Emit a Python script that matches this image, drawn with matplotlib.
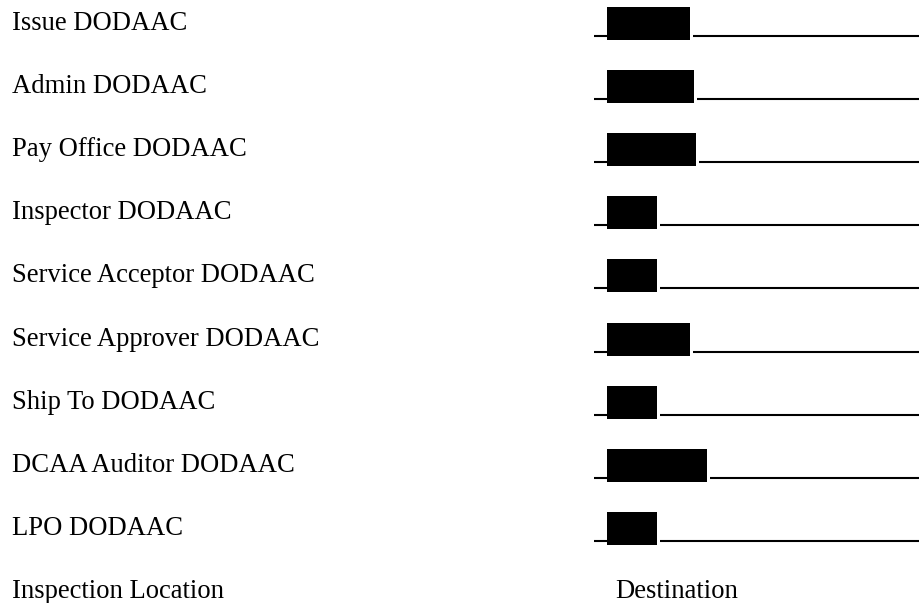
import matplotlib
matplotlib.use("Agg")
import matplotlib.pyplot as plt
import numpy as np

labels = ['Issue DODAAC', 'Admin DODAAC', 'Pay Office DODAAC', 'Inspector DODAAC',
          'Service Acceptor DODAAC', 'Service Approver DODAAC', 'Ship To DODAAC',
          'DCAA Auditor DODAAC', 'LPO DODAAC']
box_widths = [83, 87, 89, 50, 50, 83, 50, 100, 50]
last_label = 'Inspection Location'
last_value = 'Destination'

fig = plt.figure(figsize=(9.19, 6.03), dpi=100)
ax = fig.add_axes([0, 0, 1, 1])
ax.set_xlim(0, 919)
ax.set_ylim(603, 0)
ax.axis('off')

step = 63.2
rows = np.arange(len(labels))
line_y = 35.5 + step * rows
base_y = 29.5 + step * np.arange(len(labels) + 1)
box_left = 606.5

font = dict(family='Liberation Serif', fontsize=19.2, color='black')

for i, lab in enumerate(labels):
    ax.text(12, base_y[i], lab, ha='left', va='baseline', **font)

ax.text(12, base_y[-1], last_label, ha='left', va='baseline', **font)
ax.text(615, base_y[-1], last_value, ha='left', va='baseline', **font)

# underlines: short stub before the box, long one after it
ax.hlines(line_y, 594, box_left, color='black', lw=1.5)
ax.hlines(line_y, box_left + np.array(box_widths) + 3, 919, color='black', lw=1.5)

# redaction boxes
ax.bar(np.full(len(labels), box_left), np.full(len(labels), 33.0), width=box_widths,
       bottom=line_y - 29, align='edge', color='black', zorder=3)

fig.savefig('out.png', dpi=100)
